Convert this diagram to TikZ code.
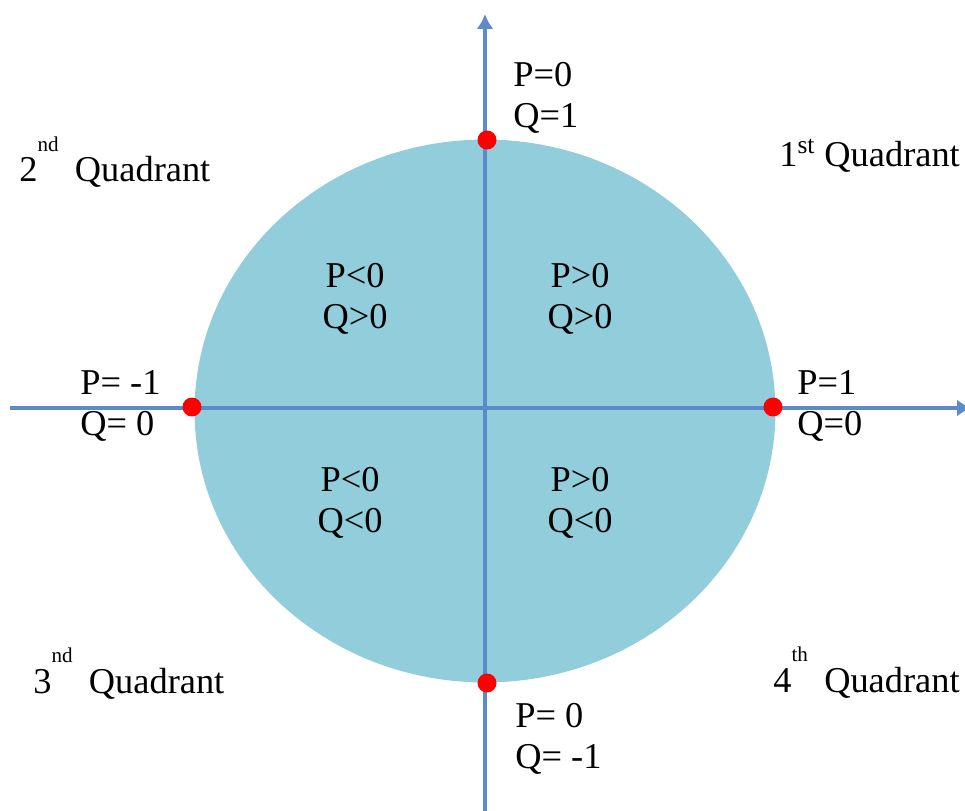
\documentclass[tikz,border=0pt]{standalone}
\usepackage{fontspec}
\setmainfont{Liberation Serif}
\usetikzlibrary{arrows.meta}
\definecolor{fillcol}{HTML}{92CDDC}
\definecolor{axcol}{HTML}{5B8BCB}
\definecolor{dotcol}{HTML}{FF0000}
\newcommand{\quadsup}[1]{\raisebox{1.8ex}{\fontsize{12}{12}\selectfont #1}}
\tikzset{
  axisline/.style={axcol, line width=2pt},
  pqdot/.style={circle, fill=dotcol, inner sep=0pt, minimum size=0.38cm},
  pqlbl/.style={font=\fontsize{20.7}{23.5}\selectfont, inner sep=0pt},
}

\begin{document}
\begin{tikzpicture}[x=0.02cm, y=-0.02cm, >={Latex[length=3mm, width=3.4mm]}]
\useasboundingbox (0,0) rectangle (965,811);
\fill[fillcol] (485,411) ellipse [x radius=5.81cm, y radius=5.43cm];
% axes
\coordinate (hl) at (10,408);
\coordinate (hr) at (972,408);
\coordinate (vb) at (485,815);
\coordinate (vt) at (485,14);
\draw[axisline, ->] (hl) -- (hr);
\draw[axisline, ->] (vb) -- (vt);
% points on the circle
\node[pqdot] (ptop) at (487,140) {};
\node[pqdot] (pbot) at (487,683) {};
\node[pqdot] (pleft) at (192,407) {};
\node[pqdot] (pright) at (773,407) {};
% labels of the points
\node[pqlbl, anchor=west, align=left] (ltop) at (513,98) {P=0\\Q=1};
\node[pqlbl, anchor=west, align=left] (lbot) at (515,739) {P= 0\\Q= -1};
\node[pqlbl, anchor=west, align=left] (lleft) at (80,406) {P= -1\\Q= 0};
\node[pqlbl, anchor=west, align=left] (lright) at (797,406) {P=1\\Q=0};
% signs inside
\node[pqlbl, align=center] (s2) at (355,299) {P<0\\Q>0};
\node[pqlbl, align=center] (s1) at (580,299) {P>0\\Q>0};
\node[pqlbl, align=center] (s3) at (350,503) {P<0\\Q<0};
\node[pqlbl, align=center] (s4) at (580,503) {P>0\\Q<0};
% quadrant names
\node[pqlbl, anchor=base west] (q2) at (19,182) {2\quadsup{nd}\hspace{0.45em}Quadrant};
\node[pqlbl, anchor=base west] (q1) at (779,167) {1\textsuperscript{st} Quadrant};
\node[pqlbl, anchor=base west] (q3) at (33,693) {3\quadsup{nd}\hspace{0.45em}Quadrant};
\node[pqlbl, anchor=base west] (q4) at (773,692) {4\quadsup{th}\hspace{0.45em}Quadrant};
\end{tikzpicture}
\end{document}
